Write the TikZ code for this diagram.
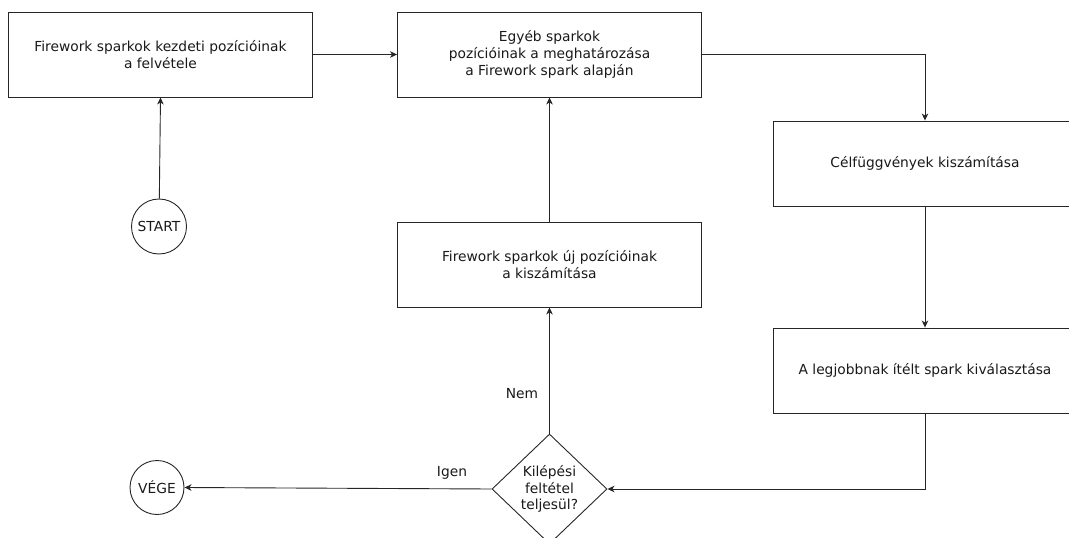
\documentclass[tikz,border=0pt]{standalone}
\usepackage{fontspec}
\setmainfont{DejaVu Sans}
\usetikzlibrary{arrows.meta,shapes.geometric}

\tikzset{
  base/.style={font=\fontsize{13.8}{16.8}\selectfont, text=black!90, align=center},
  procbox/.style={base, draw=black!85, line width=0.9pt, minimum width=304pt, minimum height=85pt, inner sep=0pt},
  termcirc/.style={base, circle, draw=black!85, line width=0.9pt, inner sep=0pt},
  decision/.style={base, diamond, draw=black!85, line width=0.9pt, minimum width=115pt, minimum height=110pt, inner sep=0pt, font=\fontsize{13.8}{16.5}\selectfont},
  flow/.style={draw=black!85, line width=0.9pt, -{Stealth[length=7pt,width=6.5pt,inset=2pt]}},
  edgelabel/.style={base}
}

\begin{document}
\begin{tikzpicture}[x=1pt,y=-1pt]
\useasboundingbox (0,0) rectangle (1069,538);

% process steps
\node[procbox] (init) at (160.5,54.5) {Firework sparkok kezdeti pozícióinak\\a felvétele};
\node[procbox] (other) at (549.5,54.5) {Egyéb sparkok\\pozícióinak a meghatározása\\a Firework spark alapján};
\node[procbox] (eval) at (925,163.5) {Célfüggvények kiszámítása};
\node[procbox] (best) at (925,370.5) {A legjobbnak ítélt spark kiválasztása};
\node[procbox] (update) at (549.5,264.5) {Firework sparkok új pozícióinak\\a kiszámítása};

% start / end terminals
\node[termcirc, minimum size=55pt] (start) at (159,226.5) {START};
\node[termcirc, minimum size=54pt] (stop) at (157,487.5) {VÉGE};

% termination test
\node[decision] (test) at (549.5,489) {Kilépési\\feltétel\\teljesül?};

% branch labels
\node[edgelabel] (nem) at (522,394) {Nem};
\node[edgelabel] (igen) at (452,473) {Igen};

% connectors
\draw[flow] (start) -- (init.south);
\draw[flow] (init.east) -- (other.west);
\draw[flow] (other.east) -| (eval.north);
\draw[flow] (eval.south) -- (best.north);
\draw[flow] (best.south) |- (test.east);
\draw[flow] (test.west) -- (stop.east);
\draw[flow] (test.north) -- (update.south);
\draw[flow] (update.north) -- (other.south);
\end{tikzpicture}
\end{document}
